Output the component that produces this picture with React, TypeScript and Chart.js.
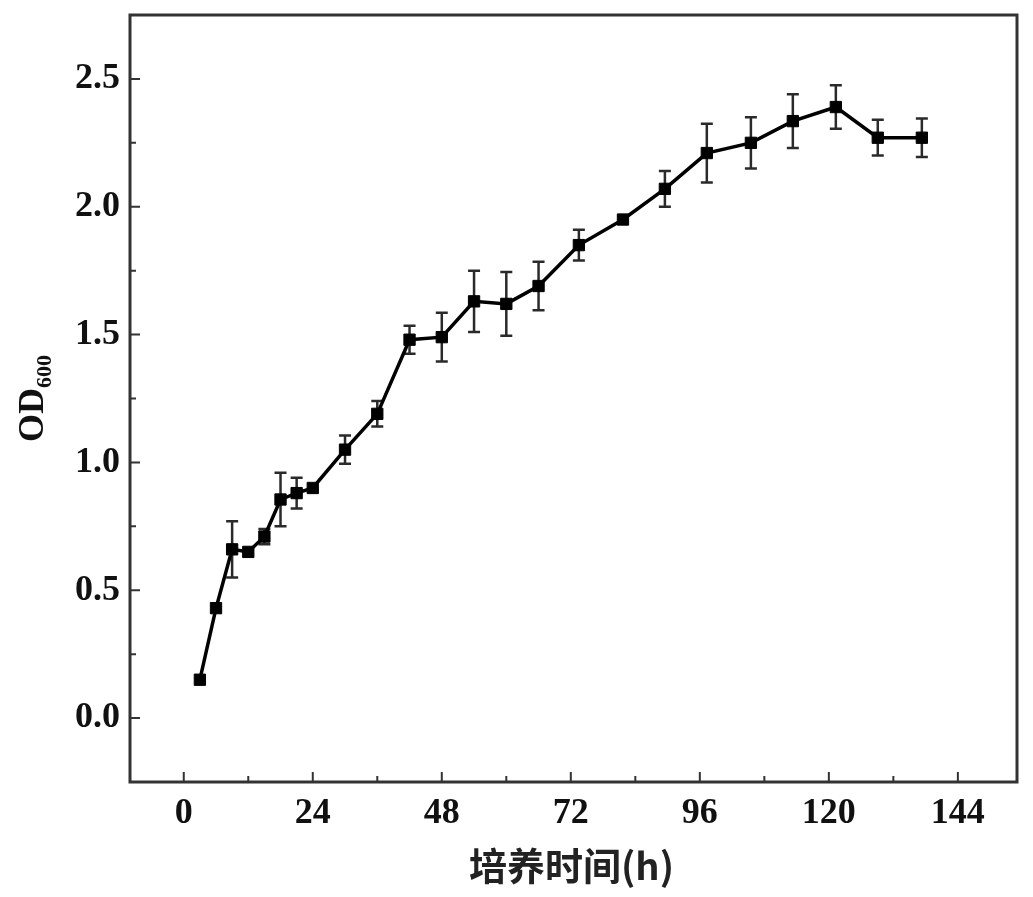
import React, { useEffect, useRef } from 'react';
import { Chart, registerables } from 'chart.js';

Chart.register(...registerables);

// ---- data ----
const hours = [3, 6, 9, 12, 15, 18, 21, 24, 30, 36, 42, 48, 54, 60, 66, 73.5, 81.7, 89.5, 97.3, 105.5, 113.3, 121.3, 129.1, 137.3];
const od600 = [0.15, 0.43, 0.66, 0.65, 0.71, 0.855, 0.88, 0.9, 1.05, 1.19, 1.48, 1.49, 1.63, 1.62, 1.69, 1.85, 1.95, 2.07, 2.21, 2.25, 2.335, 2.39, 2.27, 2.27];
const sdErr = [0.01, 0.02, 0.11, 0.02, 0.03, 0.105, 0.06, 0.02, 0.055, 0.05, 0.055, 0.095, 0.12, 0.125, 0.095, 0.06, 0.01, 0.07, 0.115, 0.1, 0.105, 0.085, 0.07, 0.075];

const xMajorTicks = [0, 24, 48, 72, 96, 120, 144];
const xMinorTicks = [12, 36, 60, 84, 108, 132];
const yMajorTicks = [0, 0.5, 1.0, 1.5, 2.0, 2.5];
const yMinorTicks = [0.25, 0.75, 1.25, 1.75, 2.25];

const xTitle = '培养时间(h)';
const yTitleMain = 'OD';
const yTitleSub = '600';

const serif = '"Liberation Serif", "Times New Roman", serif';

const framePlugin = {
  id: 'framePlugin',
  beforeDatasetsDraw(chart: any) {
    const ctx = chart.ctx;
    const xs = chart.scales.x;
    const ys = chart.scales.y;
    ctx.save();
    ctx.strokeStyle = '#2a2a2a';
    ctx.lineWidth = 2.5;
    for (let i = 0; i < hours.length; i++) {
      const e = sdErr[i];
      if (e < 0.03) continue;
      const px = xs.getPixelForValue(hours[i]);
      const pt = ys.getPixelForValue(od600[i] + e);
      const pb = ys.getPixelForValue(od600[i] - e);
      ctx.beginPath();
      ctx.moveTo(px, pt);
      ctx.lineTo(px, pb);
      ctx.moveTo(px - 6, pt);
      ctx.lineTo(px + 6, pt);
      ctx.moveTo(px - 6, pb);
      ctx.lineTo(px + 6, pb);
      ctx.stroke();
    }
    ctx.restore();
  },
  afterDraw(chart: any) {
    const ctx = chart.ctx;
    const { left, right, top, bottom } = chart.chartArea;
    const xs = chart.scales.x;
    const ys = chart.scales.y;
    ctx.save();
    // frame
    ctx.strokeStyle = '#333';
    ctx.lineWidth = 3;
    ctx.strokeRect(left, top, right - left, bottom - top);
    // inward ticks
    ctx.lineWidth = 2;
    ctx.beginPath();
    yMajorTicks.forEach((v) => {
      const p = ys.getPixelForValue(v);
      ctx.moveTo(left, p);
      ctx.lineTo(left + 10, p);
    });
    yMinorTicks.forEach((v) => {
      const p = ys.getPixelForValue(v);
      ctx.moveTo(left, p);
      ctx.lineTo(left + 6, p);
    });
    xMajorTicks.forEach((v) => {
      const p = xs.getPixelForValue(v);
      ctx.moveTo(p, bottom);
      ctx.lineTo(p, bottom - 10);
    });
    xMinorTicks.forEach((v) => {
      const p = xs.getPixelForValue(v);
      ctx.moveTo(p, bottom);
      ctx.lineTo(p, bottom - 6);
    });
    ctx.stroke();

    // x title
    ctx.fillStyle = '#222';
    ctx.font = 'bold 38px "Noto Sans CJK SC", sans-serif';
    ctx.textAlign = 'center';
    ctx.textBaseline = 'middle';
    ctx.fillText(xTitle, (left + right) / 2 - 2, 866);

    // y title with subscript
    const mainFont = `bold 36px ${serif}`;
    const subFont = `bold 22px ${serif}`;
    ctx.font = mainFont;
    const wMain = ctx.measureText(yTitleMain).width;
    ctx.font = subFont;
    const wSub = ctx.measureText(yTitleSub).width;
    const total = wMain + wSub;
    ctx.translate(43, (top + bottom) / 2);
    ctx.rotate(-Math.PI / 2);
    ctx.textAlign = 'left';
    ctx.textBaseline = 'alphabetic';
    ctx.fillStyle = '#111';
    ctx.font = mainFont;
    ctx.fillText(yTitleMain, -total / 2, 0);
    ctx.font = subFont;
    ctx.fillText(yTitleSub, -total / 2 + wMain, 8);
    ctx.restore();
  },
};

export default function App() {
  const canvasRef = useRef<HTMLCanvasElement | null>(null);

  useEffect(() => {
    if (!canvasRef.current) return;
    const chart = new Chart(canvasRef.current, {
      type: 'line',
      data: {
        datasets: [
          {
            data: hours.map((h, i) => ({ x: h, y: od600[i] })),
            borderColor: '#000',
            borderWidth: 3.5,
            pointStyle: 'rect',
            pointRadius: 8,
            pointBackgroundColor: '#000',
            pointBorderColor: '#000',
            pointBorderWidth: 1,
            tension: 0,
            fill: false,
          },
        ],
      },
      options: {
        animation: false,
        responsive: false,
        events: [],
        layout: { padding: { top: 15, right: 16, left: 0, bottom: 0 } },
        plugins: {
          legend: { display: false },
          tooltip: { enabled: false },
        },
        scales: {
          x: {
            type: 'linear',
            min: -10,
            max: 155,
            afterBuildTicks: (s: any) => {
              s.ticks = xMajorTicks.map((v) => ({ value: v }));
            },
            afterFit: (s: any) => {
              s.height = 115;
              s.paddingLeft = 0;
              s.paddingRight = 0;
            },
            grid: { display: false, drawTicks: false },
            border: { display: false },
            ticks: {
              autoSkip: false,
              maxRotation: 0,
              padding: 10,
              color: '#111',
              font: { family: serif, size: 36, weight: 'bold' },
              callback: (v: any) => String(v),
            },
          },
          y: {
            type: 'linear',
            min: -0.25,
            max: 2.75,
            afterBuildTicks: (s: any) => {
              s.ticks = yMajorTicks.map((v) => ({ value: v }));
            },
            afterFit: (s: any) => {
              s.width = 130;
              s.paddingTop = 0;
              s.paddingBottom = 0;
            },
            grid: { display: false, drawTicks: false },
            border: { display: false },
            ticks: {
              autoSkip: false,
              padding: 10,
              color: '#111',
              font: { family: serif, size: 36, weight: 'bold' },
              callback: (v: any) => Number(v).toFixed(1),
            },
          },
        },
      },
      plugins: [framePlugin],
    } as any);
    return () => chart.destroy();
  }, []);

  return (
    <div style={{ position: 'fixed', left: 0, top: 0, width: 1033, height: 897, background: '#fff' }}>
      <canvas ref={canvasRef} width={1033} height={897} style={{ display: 'block' }} />
    </div>
  );
}
